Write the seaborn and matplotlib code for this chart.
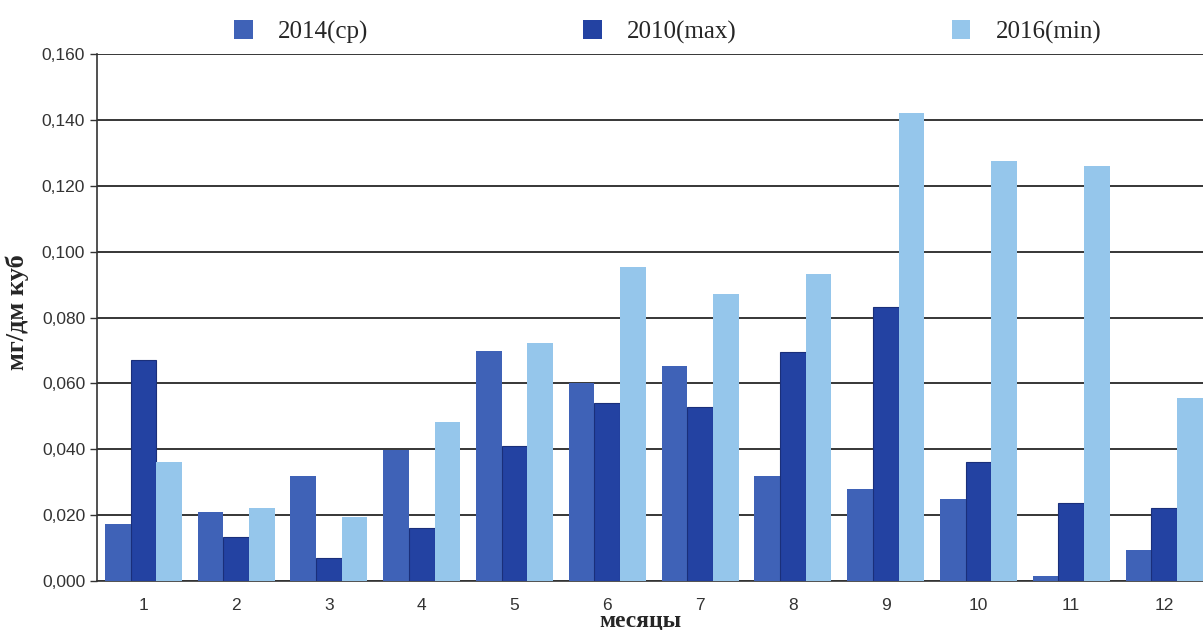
import pandas as pd
import numpy as np
import matplotlib
matplotlib.use("Agg")
import matplotlib.pyplot as plt
import seaborn as sns
from matplotlib.ticker import FuncFormatter, MultipleLocator

# ===============================
# Data
# ===============================
months = ["1", "2", "3", "4", "5", "6", "7", "8", "9", "10", "11", "12"]
series_names = ["2014(ср)", "2010(max)", "2016(min)"]

vals_2014 = [0.0173, 0.0210, 0.0320, 0.0399, 0.0699, 0.0600, 0.0653, 0.0319, 0.0279, 0.0249, 0.0015, 0.0094]
vals_2010 = [0.0670, 0.0134, 0.0070, 0.0161, 0.0410, 0.0540, 0.0528, 0.0696, 0.0832, 0.0361, 0.0237, 0.0222]
vals_2016 = [0.0361, 0.0222, 0.0194, 0.0483, 0.0722, 0.0953, 0.0871, 0.0932, 0.1420, 0.1275, 0.1260, 0.0556]

colors = ["#3F62B7", "#2342A2", "#95C6EB"]

df = pd.DataFrame({
    "month": months * 3,
    "series": np.repeat(series_names, len(months)),
    "value": vals_2014 + vals_2010 + vals_2016,
})

# ===============================
# Plot
# ===============================
sns.set_style("white")
plt.rcParams["font.family"] = ["Liberation Sans", "DejaVu Sans"]
serif = ["Liberation Serif", "DejaVu Serif"]

fig = plt.figure(figsize=(12.03, 6.30), dpi=100)
ax = fig.add_axes([97 / 1203, 1 - 581 / 630, 1 - 97 / 1203, (581 - 54) / 630])

sns.barplot(data=df, x="month", y="value", hue="series", hue_order=series_names,
            palette=colors, width=0.83, gap=0, saturation=1, ax=ax,
            linewidth=0, zorder=3, legend=True)

# darker outline on the 2010 bars
for bar in ax.containers[1]:
    bar.set_edgecolor("#1A2F7A")
    bar.set_linewidth(0.8)

ax.set_ylim(0, 0.16)
ax.set_xlim(-0.5, 11.42)
ax.yaxis.set_major_locator(MultipleLocator(0.02))
ax.yaxis.set_major_formatter(FuncFormatter(lambda v, p: f"{v:.3f}".replace(".", ",")))
ax.grid(axis="y", color="black", linewidth=1.1, zorder=0)
ax.set_axisbelow(True)

# ticks between the month groups
ax.set_xticks(np.arange(len(months)) - 0.5, minor=True)
ax.tick_params(axis="x", which="major", length=0, labelsize=12.5, colors="#333333", pad=12)
ax.tick_params(axis="x", which="minor", length=5, width=1.2, color="#333333", direction="out")
ax.tick_params(axis="y", length=5, width=1, labelsize=12.5, colors="#333333", direction="out", left=True)

for side in ["top", "right"]:
    ax.spines[side].set_visible(False)
ax.spines["left"].set_color("#333333")
ax.spines["left"].set_linewidth(1.2)
ax.spines["bottom"].set_color("#333333")
ax.spines["bottom"].set_linewidth(1.2)

ax.set_xlabel("месяцы", family=serif, fontweight="bold", fontsize=17)
ax.xaxis.label.set_va("baseline")
ax.xaxis.set_label_coords((640 - 97) / (1203 - 97), -(627 - 581) / 527)
ax.set_ylabel("мг/дм куб", family=serif, fontweight="bold", fontsize=19)
ax.yaxis.set_label_coords(-(97 - 17) / 1106, (581 - 312) / 527)
ax.yaxis.label.set_va("center")

handles, labels = ax.get_legend_handles_labels()
ax.legend_.remove()
fig.legend(handles, labels, loc="center", bbox_to_anchor=(0.555, 1 - 32 / 630), ncol=3,
           frameon=False, prop={"family": serif, "size": 18},
           handlelength=0.75, handleheight=0.75, handletextpad=1.0, columnspacing=8.6)

fig.savefig("out.png", dpi=100)
